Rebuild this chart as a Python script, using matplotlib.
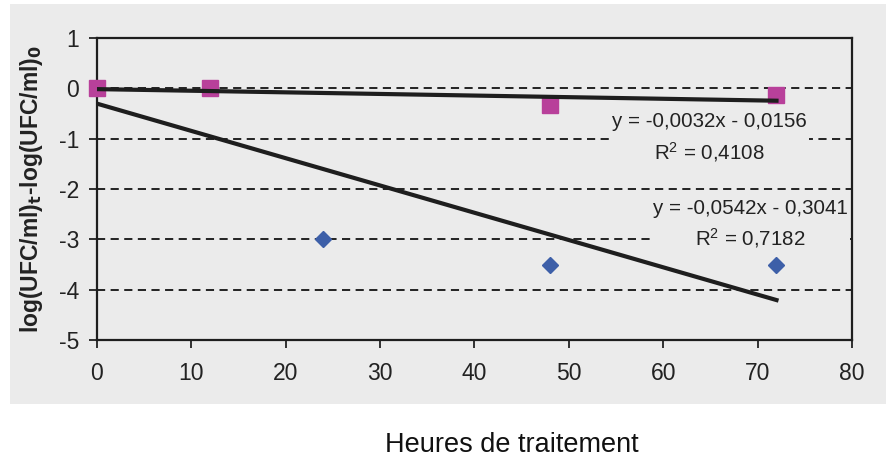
import matplotlib.pyplot as plt
from matplotlib.patches import Rectangle
import numpy as np

plt.rcParams['font.family'] = ['Liberation Sans', 'DejaVu Sans']
plt.rcParams['axes.unicode_minus'] = False
plt.rcParams['mathtext.default'] = 'regular'

# heures de traitement / log reduction
heures_bleu = [0, 12, 24, 48, 72]
log_bleu = [0, 0, -3, -3.5, -3.5]
heures_rose = [0, 12, 48, 72]
log_rose = [0, 0, -0.33, -0.13]

# equations des courbes de tendance (Excel)
pente_rose, origine_rose = -0.0032, -0.0156
pente_bleu, origine_bleu = -0.0542, -0.3041
eq_rose = "y = -0,0032x - 0,0156\nR$^2$ = 0,4108"
eq_bleu = "y = -0,0542x - 0,3041\nR$^2$ = 0,7182"

fond = '#ebebeb'
encre = '#222222'
fig = plt.figure(figsize=(8.87, 4.61), dpi=100)
fig.patches.append(Rectangle((10 / 887, 1 - 404 / 461), 877 / 887, 400 / 461,
                             transform=fig.transFigure, facecolor=fond,
                             edgecolor='none', zorder=-5))
ax = fig.add_axes([97 / 887, 1 - 340 / 461, 755 / 887, 302 / 461])
ax.set_facecolor(fond)

for yv in [0, -1, -2, -3, -4]:
    ax.axhline(yv, color=encre, lw=1.4, ls=(0, (4.2, 2.8)), zorder=1)

xt = np.array([0, 72])
ax.plot(heures_bleu, log_bleu, ls='none', marker='D', ms=8.5, color='#3d5fa8',
        zorder=3, clip_on=False)
ax.plot(heures_rose, log_rose, ls='none', marker='s', ms=12, color='#b8409a',
        zorder=4, clip_on=False)
ax.plot(xt, pente_rose * xt + origine_rose, color='#1e1e1e', lw=3, zorder=5)
ax.plot(xt, pente_bleu * xt + origine_bleu, color='#1e1e1e', lw=3, zorder=5)

boite = dict(facecolor=fond, edgecolor='none', pad=1.5)
ax.text(64.9, -0.99, eq_rose, ha='center', va='center', fontsize=14.8,
        multialignment='center', linespacing=1.5, color=encre, bbox=boite, zorder=2)
ax.text(69.2, -2.70, eq_bleu, ha='center', va='center', fontsize=14.8,
        multialignment='center', linespacing=1.4, color=encre, bbox=boite, zorder=2)

ax.set_xlim(0, 80)
ax.set_ylim(-5, 1)
ax.set_xticks(range(0, 81, 10))
ax.set_yticks(range(-5, 2))
ax.tick_params(labelsize=16.5, colors=encre, width=1.3, length=6)
ax.tick_params(axis='x', pad=10)
ax.tick_params(axis='y', pad=7)
for s in ax.spines.values():
    s.set_linewidth(1.6)
    s.set_color('#1e1e1e')

ax.set_ylabel('log(UFC/ml)$_\\mathbf{t}$-log(UFC/ml)$_\\mathbf{0}$', fontsize=16.5,
              fontweight='bold', color=encre, labelpad=10)
fig.text(512 / 887, 1 - 445 / 461, 'Heures de traitement', ha='center',
         va='center', fontsize=19.5, color='#111111')

fig.savefig('out.png', dpi=100)
